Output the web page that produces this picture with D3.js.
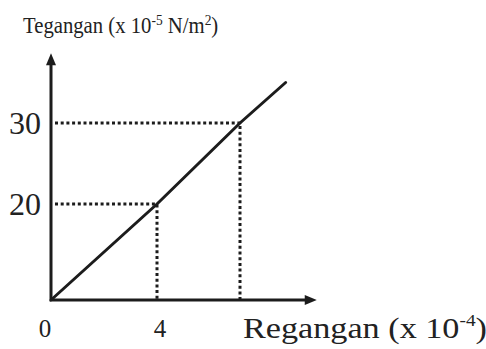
<!DOCTYPE html>
<html>
<head>
<meta charset="utf-8">
<script src="https://cdn.jsdelivr.net/npm/d3@7/dist/d3.min.js"></script>
<style>
  body { margin: 0; background: #fff; }
  svg { display: block; }
  text { font-family: "Liberation Serif", "Times New Roman", serif; fill: #222; }
</style>
</head>
<body>
<svg id="chart"></svg>
<script>
// strain (x 10^-4) vs stress (x 10^-5 N/m^2)
var strain = [0, 4, 6, 7.1];
var stress = [0, 20, 30, 35];
var guidePoints = [[4, 20], [6, 30]];
var yTickValues = [20, 30];
var xTickValues = [0, 4];
var axisMax = { x: 7.85, y: 38.6 };

var width = 486, height = 349;

// the sketch is not drawn to scale, so both axes are piecewise
var xScale = d3.scaleLinear().domain([0, 4, 6]).range([51, 157, 240]),
    yScale = d3.scaleLinear().domain([0, 20, 30]).range([300, 204, 123]);

var svg = d3.select('#chart')
    .attr('width', width)
    .attr('height', height);

var ink = '#1c1c1c';

// dotted guides
guidePoints.forEach(function(p) {
  svg.append('path')
      .attr('d', 'M' + (xScale(0) + 4) + ',' + yScale(p[1]) + 'H' + xScale(p[0]) + 'V' + yScale(0))
      .attr('fill', 'none')
      .attr('stroke', ink)
      .attr('stroke-width', 3)
      .attr('stroke-dasharray', '3,2.7');
});

// axes with arrow heads
var x0 = xScale(0), y0 = yScale(0),
    xEnd = xScale(axisMax.x), yEnd = yScale(axisMax.y);

svg.append('path')
    .attr('d', 'M' + x0 + ',' + (yEnd + 8) + 'V' + y0 + 'H' + (xEnd - 8))
    .attr('fill', 'none')
    .attr('stroke', ink)
    .attr('stroke-width', 3);

svg.append('path')
    .attr('d', 'M' + x0 + ',' + yEnd + 'l-5,12h10z')
    .attr('fill', ink);
svg.append('path')
    .attr('d', 'M' + xEnd + ',' + y0 + 'l-12,-5v10z')
    .attr('fill', ink);

// the stress-strain line
var line = d3.line()
    .x(function(d, i) { return xScale(strain[i]); })
    .y(function(d, i) { return yScale(stress[i]); });

svg.append('path')
    .datum(strain)
    .attr('d', line)
    .attr('fill', 'none')
    .attr('stroke', ink)
    .attr('stroke-width', 3)
    .attr('stroke-linecap', 'round');

// tick labels
svg.selectAll('.ylabel')
    .data(yTickValues)
  .enter().append('text')
    .attr('class', 'ylabel')
    .attr('x', x0 - 10)
    .attr('y', function(d) { return yScale(d) + 11; })
    .attr('text-anchor', 'end')
    .attr('font-size', 32)
    .text(String);

svg.selectAll('.xlabel')
    .data(xTickValues)
  .enter().append('text')
    .attr('class', 'xlabel')
    .attr('x', function(d) { return xScale(d) + (d === 0 ? -6 : 3); })
    .attr('y', 337)
    .attr('text-anchor', 'middle')
    .attr('font-size', 25)
    .text(String);

// axis titles
var yTitle = svg.append('text')
    .attr('transform', 'translate(23,33) scale(0.9,1)')
    .attr('font-size', 23);
yTitle.append('tspan').text('Tegangan (x 10');
yTitle.append('tspan').attr('dy', -8).attr('font-size', 15).text('-5');
yTitle.append('tspan').attr('dy', 8).text(' N/m');
yTitle.append('tspan').attr('dy', -8).attr('font-size', 15).text('2');
yTitle.append('tspan').attr('dy', 8).text(')');

var xTitle = svg.append('text')
    .attr('transform', 'translate(243,338) scale(1.14,1)')
    .attr('font-size', 30);
xTitle.append('tspan').text('Regangan (x 10');
xTitle.append('tspan').attr('dy', -12).attr('font-size', 17).text('-4');
xTitle.append('tspan').attr('dy', 12).text(')');
</script>
</body>
</html>
